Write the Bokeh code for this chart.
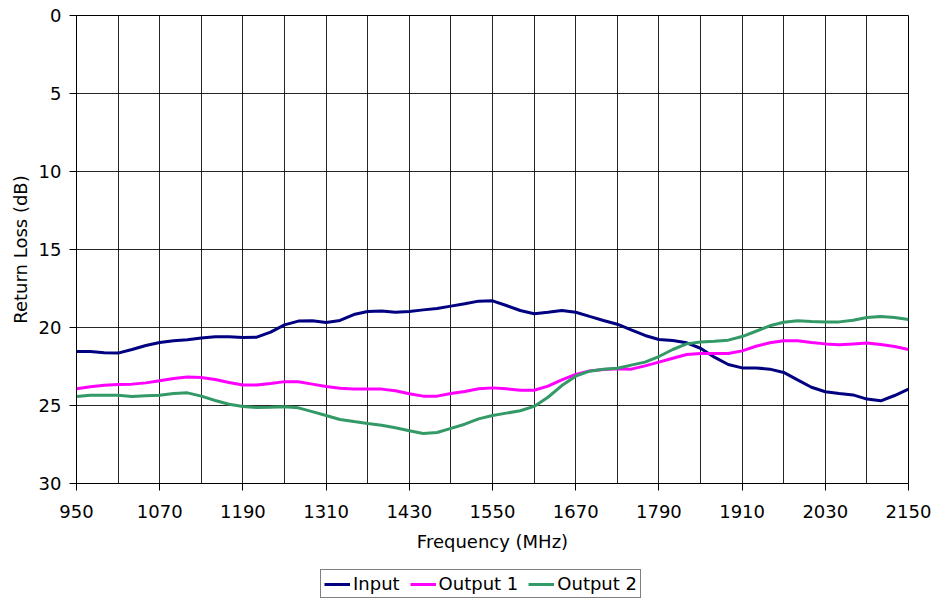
from bokeh.plotting import figure
from bokeh.models import Range1d, FixedTicker, Legend, LegendItem
from bokeh.layouts import column
from bokeh.embed import file_html
from bokeh.resources import INLINE

freq = [950, 970, 990, 1010, 1030, 1050, 1070, 1090, 1110, 1130, 1150, 1170, 1190,
        1210, 1230, 1250, 1270, 1290, 1310, 1330, 1350, 1370, 1390, 1410, 1430, 1450,
        1470, 1490, 1510, 1530, 1550, 1570, 1590, 1610, 1630, 1650, 1670, 1690, 1710,
        1730, 1750, 1770, 1790, 1810, 1830, 1850, 1870, 1890, 1910, 1930, 1950, 1970,
        1990, 2010, 2030, 2050, 2070, 2090, 2110, 2130, 2150]

input_rl = [21.54, 21.54, 21.62, 21.64, 21.41, 21.15, 20.96, 20.85, 20.79, 20.68, 20.60,
            20.60, 20.64, 20.62, 20.30, 19.83, 19.59, 19.57, 19.68, 19.55, 19.17, 18.97,
            18.95, 19.02, 18.97, 18.87, 18.78, 18.63, 18.48, 18.31, 18.29, 18.59, 18.91,
            19.12, 19.02, 18.91, 19.02, 19.29, 19.55, 19.79, 20.15, 20.51, 20.77, 20.83,
            20.98, 21.33, 21.90, 22.37, 22.59, 22.59, 22.67, 22.88, 23.36, 23.83, 24.12,
            24.23, 24.32, 24.59, 24.70, 24.36, 23.95]

output1_rl = [23.93, 23.80, 23.70, 23.65, 23.63, 23.55, 23.42, 23.27, 23.18, 23.21, 23.33,
              23.53, 23.68, 23.68, 23.59, 23.47, 23.48, 23.63, 23.78, 23.89, 23.95, 23.95,
              23.95, 24.06, 24.25, 24.40, 24.40, 24.23, 24.10, 23.93, 23.87, 23.93, 24.02,
              24.02, 23.76, 23.36, 23.01, 22.78, 22.69, 22.65, 22.67, 22.46, 22.22, 21.97,
              21.73, 21.67, 21.67, 21.67, 21.50, 21.20, 20.98, 20.85, 20.85, 20.96, 21.05,
              21.11, 21.05, 21.00, 21.09, 21.22, 21.41]

output2_rl = [24.42, 24.34, 24.34, 24.34, 24.42, 24.38, 24.34, 24.23, 24.19, 24.40, 24.68,
              24.92, 25.06, 25.13, 25.11, 25.08, 25.15, 25.39, 25.64, 25.90, 26.03, 26.15,
              26.26, 26.43, 26.62, 26.79, 26.73, 26.47, 26.20, 25.86, 25.64, 25.49, 25.34,
              25.06, 24.47, 23.72, 23.12, 22.80, 22.67, 22.61, 22.41, 22.22, 21.86, 21.41,
              21.05, 20.93, 20.88, 20.81, 20.58, 20.24, 19.89, 19.66, 19.57, 19.62, 19.64,
              19.64, 19.53, 19.36, 19.29, 19.36, 19.49]

x_labels = [950, 1070, 1190, 1310, 1430, 1550, 1670, 1790, 1910, 2030, 2150]
x_grid = [950 + 60 * i for i in range(21)]
y_ticks = [0, 5, 10, 15, 20, 25, 30]

series_names = ["Input", "Output 1", "Output 2"]
series_colors = ["#000080", "#FF00FF", "#339966"]
series_values = [input_rl, output1_rl, output2_rl]

FONT = "DejaVu Sans"

p = figure(width=932, height=560, output_backend="svg", toolbar_location=None,
           x_range=Range1d(950, 2150), y_range=Range1d(30, 0),
           min_border_left=76, min_border_top=15, min_border_right=24, min_border_bottom=77)
p.background_fill_color = "white"
p.border_fill_color = "white"
p.outline_line_color = "black"
p.outline_line_width = 1

# grids
p.xgrid.ticker = FixedTicker(ticks=x_grid)
p.ygrid.ticker = FixedTicker(ticks=y_ticks)
for g in (p.xgrid, p.ygrid):
    g.grid_line_color = "black"
    g.grid_line_width = 1
    g.grid_line_alpha = 0.85

# axes
p.xaxis.ticker = FixedTicker(ticks=x_labels)
p.yaxis.ticker = FixedTicker(ticks=y_ticks)
for ax in (p.xaxis, p.yaxis):
    ax.axis_line_color = "black"
    ax.major_tick_line_color = "black"
    ax.major_tick_out = 7
    ax.major_tick_in = 0
    ax.minor_tick_line_color = None
    ax.major_label_text_font = FONT
    ax.major_label_text_font_size = "18px"
    ax.major_label_text_color = "black"
    ax.axis_label_text_font = FONT
    ax.axis_label_text_font_size = "18px"
    ax.axis_label_text_font_style = "normal"
    ax.axis_label_text_color = "black"
p.xaxis.axis_label = "Frequency (MHz)"
p.yaxis.axis_label = "Return Loss (dB)"
p.xaxis.major_label_standoff = 14
p.yaxis.major_label_standoff = 8
p.xaxis.axis_label_standoff = 10
p.yaxis.axis_label_standoff = 5

for vals, col in zip(series_values, series_colors):
    p.line(freq, vals, line_color=col, line_width=3)

# legend panel below the chart (its own lines fall outside its view range)
lp = figure(width=932, height=40, output_backend="svg", toolbar_location=None,
            x_range=Range1d(0, 1), y_range=Range1d(0, 1),
            min_border_left=0, min_border_right=0, min_border_top=0, min_border_bottom=0)
lp.axis.visible = False
lp.grid.visible = False
lp.outline_line_color = None
lp.background_fill_color = "white"
lp.border_fill_color = "white"
keys = [lp.line(freq, vals, line_color=col, line_width=3)
        for vals, col in zip(series_values, series_colors)]

legend = Legend(items=[LegendItem(label=n, renderers=[k]) for n, k in zip(series_names, keys)],
                orientation="horizontal", location=(244, 2))
legend.label_text_font = FONT
legend.label_text_font_size = "18px"
legend.label_text_color = "black"
legend.border_line_color = "black"
legend.border_line_width = 1
legend.glyph_width = 26
legend.glyph_height = 20
legend.label_standoff = 3
legend.spacing = 10
legend.padding = 3
legend.margin = 0
legend.label_height = 20
lp.add_layout(legend, "center")

layout = column(p, lp, spacing=0)
open("out.html", "w").write(file_html(layout, INLINE))
